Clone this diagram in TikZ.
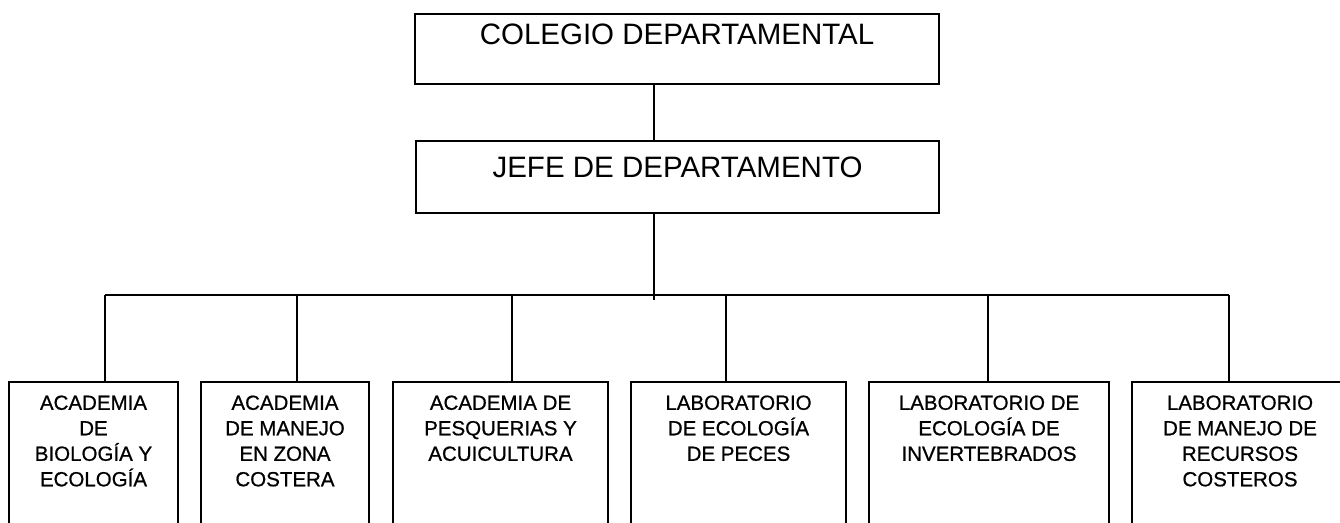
\documentclass[tikz,border=0pt]{standalone}
\usepackage{fontspec}
\setmainfont{Liberation Sans}
\newfontfamily\unitfont[FakeBold=0.7]{Liberation Sans}
\begin{document}
\begin{tikzpicture}[x=1pt,y=-1pt,line width=1.6pt,
  topbox/.style={draw,anchor=north,inner sep=0pt,font=\fontsize{29.5}{30}\selectfont},
  unitbox/.style={draw,anchor=north,inner sep=0pt,text height=28pt,text depth=200pt,font=\unitfont\fontsize{20.5}{25.5}\selectfont},
  conn/.style={line width=1.6pt}]
\useasboundingbox (0,0) rectangle (1340,522);
\clip (0,0) rectangle (1340,522);
\node[topbox,minimum width=524pt,text height=31pt,text depth=39pt] (col) at (677,13) {COLEGIO DEPARTAMENTAL};
\node[topbox,minimum width=523pt,text height=37pt,text depth=35pt] (jefe) at (677.5,140) {JEFE DE DEPARTAMENTO};
\node[unitbox,minimum width=169pt] (u1) at (93.5,381) {\parbox[t]{165pt}{\centering ACADEMIA\\DE\\BIOLOGÍA Y\\ECOLOGÍA}};
\node[unitbox,minimum width=168pt] (u2) at (285,381) {\parbox[t]{164pt}{\centering ACADEMIA\\DE MANEJO\\EN ZONA\\COSTERA}};
\node[unitbox,minimum width=215pt] (u3) at (500.5,381) {\parbox[t]{211pt}{\centering ACADEMIA DE\\PESQUERIAS Y\\ACUICULTURA}};
\node[unitbox,minimum width=215pt] (u4) at (738.5,381) {\parbox[t]{211pt}{\centering LABORATORIO\\DE ECOLOGÍA\\DE PECES}};
\node[unitbox,minimum width=240pt] (u5) at (989,381) {\parbox[t]{236pt}{\centering LABORATORIO DE\\ECOLOGÍA DE\\INVERTEBRADOS}};
\node[unitbox,minimum width=216pt] (u6) at (1240,381) {\parbox[t]{212pt}{\centering LABORATORIO\\DE MANEJO DE\\RECURSOS\\COSTEROS}};
\coordinate (vx) at (654,0);
\draw[conn] (col.south -| vx) -- (jefe.north -| vx);
\coordinate (hub) at (654,300);
\draw[conn] (jefe.south -| vx) -- (hub);
\coordinate (d1) at (105,295);
\coordinate (d2) at (297,295);
\coordinate (d3) at (512,295);
\coordinate (d4) at (726,295);
\coordinate (d5) at (988,295);
\coordinate (d6) at (1229,295);
\draw[conn] (d1) -- (d6);
\foreach \i in {1,...,6}{\draw[conn] (d\i) -- (d\i |- u\i.north);}
\end{tikzpicture}
\end{document}
